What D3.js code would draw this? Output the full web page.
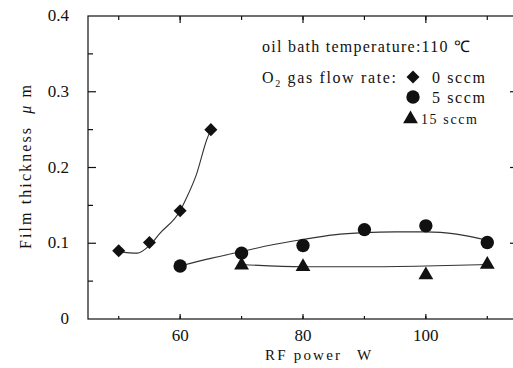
<!DOCTYPE html>
<html>
<head>
<meta charset="utf-8">
<script src="https://cdn.jsdelivr.net/npm/d3@7"></script>
<style>
  body { margin: 0; background: #fff; }
</style>
</head>
<body>
<div id="chart"></div>
<script>
// measured points (RF power W, film thickness um)
const power0 = [50, 55, 60, 65];
const thick0 = [0.090, 0.101, 0.143, 0.250];
const power5 = [60, 70, 80, 90, 100, 110];
const thick5 = [0.070, 0.087, 0.097, 0.118, 0.123, 0.101];
const power15 = [70, 80, 100, 110];
const thick15 = [0.071, 0.069, 0.058, 0.072];

// hand drawn fit curves
const fitPower0 = [50, 53, 55, 56.7, 60, 61.1, 62.7, 64.3, 65];
const fitThick0 = [0.089, 0.087, 0.097, 0.113, 0.143, 0.161, 0.192, 0.236, 0.250];
const fitPower5 = [60, 65, 70, 75, 80, 85, 90, 95, 100, 105, 110];
const fitThick5 = [0.070, 0.080, 0.089, 0.098, 0.105, 0.111, 0.114, 0.115, 0.115, 0.112, 0.104];
const fitPower15 = [70, 80, 90, 100, 110];
const fitThick15 = [0.072, 0.069, 0.069, 0.070, 0.072];

const xTicks = [60, 80, 100];
const yTicks = [0, 0.1, 0.2, 0.3, 0.4];
const yTickLabels = ["0", "0.1", "0.2", "0.3", "0.4"];

const width = 513, height = 368;
const font = "Liberation Serif";
const x = d3.scaleLinear().domain([45, 115]).range([88, 518]);
const y = d3.scaleLinear().domain([0, 0.4]).range([319, 16]);

const svg = d3.select("#chart").append("svg")
  .attr("width", width).attr("height", height);

const ink = "#111";

function label(sel) {
  return sel.attr("font-family", font).attr("fill", ink);
}
// the scanned type is set wider than Times, so stretch the spacing
function spread(sel, len) {
  return sel.attr("textLength", len).attr("lengthAdjust", "spacing");
}

// frame
svg.append("rect")
  .attr("x", x(45)).attr("y", y(0.4))
  .attr("width", x(115) - x(45)).attr("height", y(0) - y(0.4))
  .attr("fill", "none").attr("stroke", ink).attr("stroke-width", 1.2);

// inward ticks on all four sides
const xMinor = d3.range(50, 115, 10);
const yMinor = d3.range(0.05, 0.4, 0.1);
const tk = svg.append("g").attr("stroke", ink).attr("stroke-width", 1.2);

tk.selectAll(".xb").data(xTicks.map(v => [v, 5]).concat(xMinor.map(v => [v, 3])))
  .enter().append("line")
  .attr("x1", d => x(d[0])).attr("x2", d => x(d[0]))
  .attr("y1", y(0)).attr("y2", d => y(0) - d[1]);
tk.selectAll(".xt").data(xTicks.map(v => [v, 7]).concat(xMinor.map(v => [v, 4])))
  .enter().append("line")
  .attr("x1", d => x(d[0])).attr("x2", d => x(d[0]))
  .attr("y1", y(0.4)).attr("y2", d => y(0.4) + d[1]);
tk.selectAll(".yl").data(yTicks.slice(1, 4).map(v => [v, 8]).concat(yMinor.map(v => [v, 5])))
  .enter().append("line")
  .attr("y1", d => y(d[0])).attr("y2", d => y(d[0]))
  .attr("x1", x(45)).attr("x2", d => x(45) + d[1]);
tk.selectAll(".yr").data(yTicks.slice(1, 4).map(v => [v, 8]).concat(yMinor.map(v => [v, 5])))
  .enter().append("line")
  .attr("y1", d => y(d[0])).attr("y2", d => y(d[0]))
  .attr("x1", x(115)).attr("x2", d => x(115) - d[1]);

// tick labels
svg.selectAll(".xl").data(xTicks).enter().append("text")
  .attr("x", d => x(d)).attr("y", 341)
  .attr("text-anchor", "middle").attr("font-size", 17)
  .call(label)
  .text(d => d);
svg.selectAll(".yl").data(yTicks).enter().append("text")
  .attr("x", 69).attr("y", d => y(d) + 5)
  .attr("text-anchor", "end").attr("font-size", 17)
  .call(label)
  .text((d, i) => yTickLabels[i]);

// axis titles
svg.append("text").attr("x", 265).attr("y", 360)
  .attr("font-size", 15)
  .call(label).call(spread, 75)
  .text("RF power");
svg.append("text").attr("x", 357).attr("y", 360)
  .attr("font-size", 15)
  .call(label)
  .text("W");
const yt = svg.append("text")
  .attr("transform", "translate(31,167) rotate(-90)")
  .attr("text-anchor", "middle").attr("font-size", 16)
  .attr("xml:space", "preserve")
  .call(label).call(spread, 164);
yt.append("tspan").text("Film thickness  ");
yt.append("tspan").attr("font-style", "italic").text("\u03bc");
yt.append("tspan").text(" m");

// fit curves
const line = d3.line().x(d => x(d[0])).y(d => y(d[1])).curve(d3.curveMonotoneX);
const fits = [
  d3.zip(fitPower0, fitThick0),
  d3.zip(fitPower5, fitThick5),
  d3.zip(fitPower15, fitThick15)
];
svg.selectAll(".fit").data(fits).enter().append("path")
  .attr("d", line).attr("fill", "none")
  .attr("stroke", "#333").attr("stroke-width", 1.1);

// markers
const sym = {
  diamond: d3.symbol().type(d3.symbolSquare).size(85),
  circle: d3.symbol().type(d3.symbolCircle).size(140),
  triangle: d3.symbol().type(d3.symbolTriangle).size(95)
};
function drawMarks(px, py, kind, rot) {
  svg.selectAll(null).data(d3.zip(px, py)).enter().append("path")
    .attr("d", sym[kind])
    .attr("transform", d => `translate(${x(d[0])},${y(d[1])}) rotate(${rot})`)
    .attr("fill", ink);
}
drawMarks(power0, thick0, "diamond", 45);
drawMarks(power5, thick5, "circle", 0);
drawMarks(power15, thick15, "triangle", 0);

// legend
svg.append("text").attr("x", 262).attr("y", 52).attr("font-size", 16)
  .call(label).call(spread, 208)
  .text("oil bath temperature:110 \u2103");
const o2 = svg.append("text").attr("x", 262).attr("y", 83).attr("font-size", 16)
  .call(label).call(spread, 134);
o2.append("tspan").text("O");
o2.append("tspan").attr("font-size", 10).attr("dy", 4).text("2");
o2.append("tspan").attr("dy", -4).text(" gas flow rate:");

const legendItems = [
  { kind: "diamond", rot: 45, cx: 413, cy: 77, label: "0 sccm", lx: 432, ly: 83, fs: 16, len: 53 },
  { kind: "circle", rot: 0, cx: 413, cy: 97, label: "5 sccm", lx: 432, ly: 103, fs: 16, len: 53 },
  { kind: "triangle", rot: 0, cx: 410.5, cy: 119, label: "15 sccm", lx: 421, ly: 124, fs: 14, len: 56 }
];
legendItems.forEach(it => {
  svg.append("path").attr("d", sym[it.kind])
    .attr("transform", `translate(${it.cx},${it.cy}) rotate(${it.rot})`)
    .attr("fill", ink);
  svg.append("text").attr("x", it.lx).attr("y", it.ly)
    .attr("font-size", it.fs).call(label).call(spread, it.len).text(it.label);
});
</script>
</body>
</html>
